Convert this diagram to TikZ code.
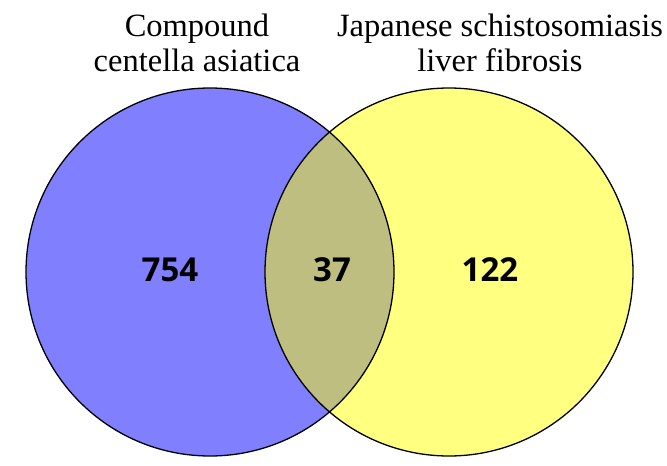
\documentclass[tikz,border=0pt]{standalone}
\usepackage{fontspec}
\setmainfont{Liberation Serif}
\newfontfamily\countfont{Open Sans}
\usepackage{tikz}
\definecolor{setA}{RGB}{128,128,255}
\definecolor{setB}{RGB}{255,255,128}
\definecolor{setAB}{RGB}{190,190,128}

\begin{document}
\begin{tikzpicture}[x=1pt, y=-1pt]
    \tikzstyle{set}=[circle,inner sep=0pt,minimum size=368pt]
    \tikzstyle{ring}=[draw=black,line width=1.3pt]
    \tikzstyle{count}=[font=\countfont\bfseries\fontsize{33}{33}\selectfont]
    \tikzstyle{title}=[align=center,anchor=base,font=\fontsize{32.5}{35}\selectfont]
    \useasboundingbox (0,0) rectangle (667,466);
    \node[set,fill=setA] (drug) at (210,272) {};
    \node[set,fill=setB] (disease) at (449,272) {};
    \begin{scope}
      \clip (drug.center) circle (184pt);
      \fill[setAB] (disease.center) circle (184pt);
    \end{scope}
    \draw[ring] (drug.center) circle (184pt);
    \draw[ring] (disease.center) circle (184pt);
    \node[count] (drugonly) at (170,270) {754};
    \node[count] (both) at (332,270) {37};
    \node[count] (diseaseonly) at (490,270) {122};
    \node[title] (drugname) at (197,71) {Compound\\centella asiatica};
    \node[title] (diseasename) at (500,71) {Japanese schistosomiasis\\liver fibrosis};
  \end{tikzpicture}
\end{document}
